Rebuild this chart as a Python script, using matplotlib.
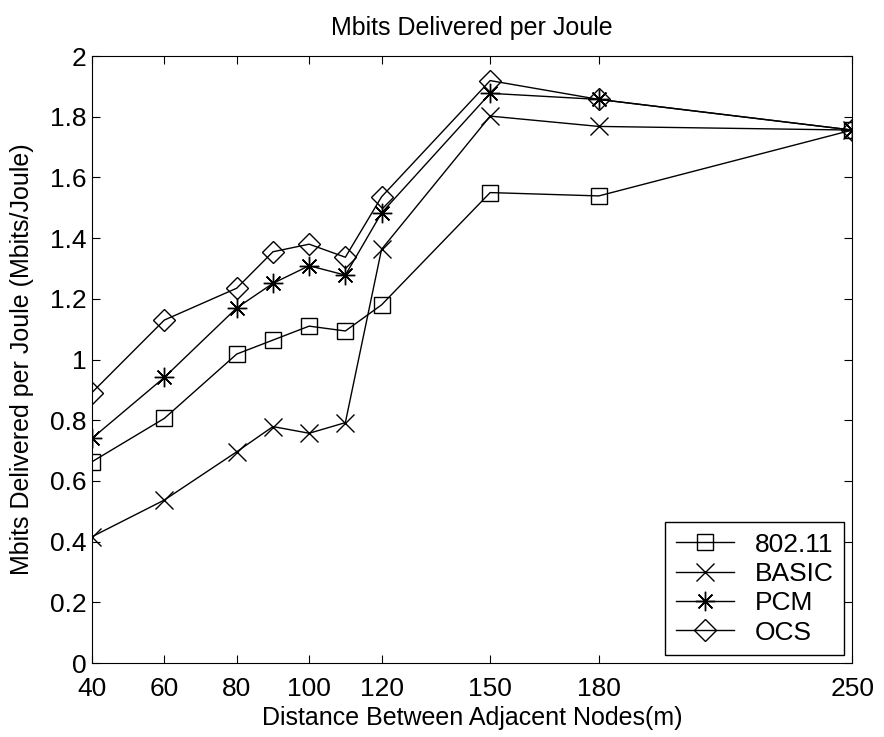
#Recreation of the "Mbits Delivered per Joule" line chart
import matplotlib
matplotlib.use("Agg")
import matplotlib.pyplot as plt

plt.rcParams['font.family'] = ['Liberation Sans', 'DejaVu Sans']

#Distances (m) and the four series
distance = [40, 60, 80, 90, 100, 110, 120, 150, 180, 250]
mb_80211 = [0.663, 0.806, 1.018, 1.064, 1.110, 1.094, 1.180, 1.550, 1.539, 1.756]
mb_basic = [0.416, 0.537, 0.696, 0.779, 0.757, 0.792, 1.363, 1.802, 1.768, 1.756]
mb_pcm = [0.740, 0.941, 1.170, 1.251, 1.309, 1.278, 1.483, 1.877, 1.857, 1.756]
mb_ocs = [0.891, 1.130, 1.235, 1.355, 1.380, 1.337, 1.536, 1.919, 1.857, 1.756]
xticks = [40, 60, 80, 100, 120, 150, 180, 250]
yticks = [0, 0.2, 0.4, 0.6, 0.8, 1, 1.2, 1.4, 1.6, 1.8, 2]
ytick_labels = ['0', '0.2', '0.4', '0.6', '0.8', '1', '1.2', '1.4', '1.6', '1.8', '2']

fig = plt.figure(figsize=(8.84, 7.37), dpi=100)
ax = fig.add_axes([0.104, 0.1004, 0.860, 0.8236])

#Plot each series in black with its own marker
ax.plot(distance, mb_80211, 'k-', marker='s', mfc='none', ms=11, lw=1, label='802.11')
ax.plot(distance, mb_basic, 'k-', marker='x', ms=13, mew=1, lw=1, label='BASIC')
ax.plot(distance, mb_pcm, 'k-', marker=(8, 2, 0), ms=14, mew=1, lw=1, label='PCM')
ax.plot(distance, mb_ocs, 'k-', marker='D', mfc='none', ms=11, lw=1, label='OCS')

#Axis formatting, matlab style ticks
ax.set_xlim(40, 250)
ax.set_ylim(0, 2)
ax.set_xticks(xticks)
ax.set_yticks(yticks)
ax.set_yticklabels(ytick_labels)
ax.tick_params(direction='in', top=True, right=True, length=6, labelsize=19)
ax.tick_params(axis='x', pad=10)
ax.tick_params(axis='y', pad=4)
ax.set_title("Mbits Delivered per Joule", fontsize=18, pad=15)
ax.set_xlabel("Distance Between Adjacent Nodes(m)", fontsize=18, labelpad=4)
ax.set_ylabel("Mbits Delivered per Joule (Mbits/Joule)", fontsize=18, labelpad=11)

leg = ax.legend(loc='lower right', fontsize=19, fancybox=False, edgecolor='k',
                handlelength=2.2, borderaxespad=0.3, labelspacing=0.2, framealpha=1)
leg.get_frame().set_linewidth(1)

plt.savefig("out.png", dpi=100)
